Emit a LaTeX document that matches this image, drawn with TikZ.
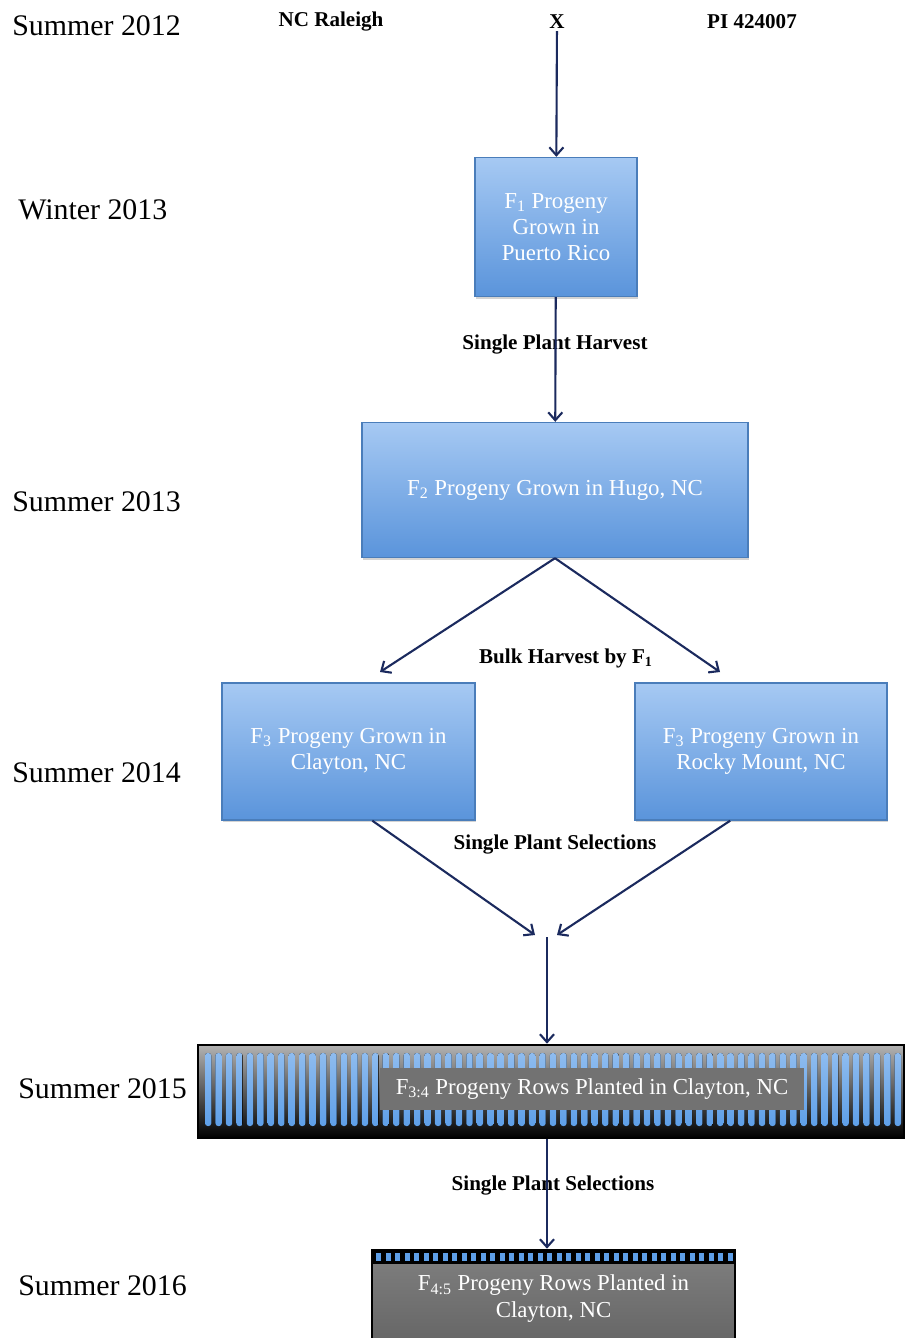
\documentclass[tikz,border=0pt]{standalone}
\usepackage{fontspec}
\setmainfont{Liberation Serif}
\usetikzlibrary{arrows.meta,shadows}
\definecolor{boxTop}{HTML}{A6C9F3}
\definecolor{boxBottom}{HTML}{5A94DB}
\definecolor{boxEdge}{HTML}{4A7DBA}
\definecolor{arrowNavy}{HTML}{1B2A5E}
\definecolor{stripeBlue}{HTML}{5E9FE8}
\definecolor{rowGray}{HTML}{727272}

\begin{document}
\begin{tikzpicture}
[x=0.02cm,y=-0.02cm,
  yearDecorate/.style={anchor=west,inner sep=0pt,font=\fontsize{17}{20}\selectfont},
  headDecorate/.style={inner sep=1pt,font=\bfseries\fontsize{12}{14}\selectfont},
  boxDecorate/.style={draw=boxEdge,thick,top color=boxTop,bottom color=boxBottom,
    text=white,align=center,font=\fontsize{13}{15}\selectfont,
    drop shadow={opacity=0.35,shadow xshift=0.6pt,shadow yshift=-1.2pt}},
  rowDecorate/.style={draw=black,line width=1.5pt,text=white,align=center,
    font=\fontsize{13}{15}\selectfont},
  lineDecorate/.style={draw=arrowNavy,line width=1.2pt,
    -{Straight Barb[length=4.5pt,width=8pt]}}]
\useasboundingbox (0,0) rectangle (904,1338);
%% seasons on the left
\foreach \name/\x/\y/\season in {
  y12/12/26/Summer 2012, w13/18/210/Winter 2013, y13/12/502/Summer 2013,
  y14/12/773/Summer 2014, y15/18/1089/Summer 2015, y16/18/1286/Summer 2016}
{
  \node[yearDecorate] (\name) at (\x,\y) {\season};
}
%% the cross
\node[headDecorate] (raleigh) at (331,22) {NC Raleigh};
\node[headDecorate] (cross) at (557,22) {X};
\node[headDecorate] (pi) at (752,22) {PI 424007};
%% generations
\node[boxDecorate,minimum width=3.24cm,minimum height=2.78cm] (b1) at (556,227)
  {F\textsubscript{1} Progeny\\Grown in\\Puerto Rico};
\node[boxDecorate,minimum width=7.72cm,minimum height=2.7cm] (b2) at (555,490)
  {F\textsubscript{2} Progeny Grown in Hugo, NC};
\node[boxDecorate,minimum width=5.06cm,minimum height=2.74cm] (b3a) at (348.5,751.5)
  {F\textsubscript{3} Progeny Grown in\\Clayton, NC};
\node[boxDecorate,minimum width=5.04cm,minimum height=2.74cm] (b3b) at (761,751.5)
  {F\textsubscript{3} Progeny Grown in\\Rocky Mount, NC};
%% progeny rows
\node[rowDecorate,top color=gray!60,bottom color=black,
  minimum width=14.12cm,minimum height=1.86cm] (b4) at (551,1091.5) {};
\foreach \k in {0,...,66}
  \fill[top color=stripeBlue!70!white,bottom color=stripeBlue,rounded corners=1.5pt]
    ({205+10.45*\k},1053) rectangle +(6.3,73);
\node[fill=rowGray,text=white,minimum width=8.5cm,minimum height=0.84cm,
  font=\fontsize{13}{15}\selectfont] (b4l) at (592,1089)
  {F\textsubscript{3:4} Progeny Rows Planted in Clayton, NC};
\node[rowDecorate,top color=black!50,bottom color=black!60,
  minimum width=7.26cm,minimum height=1.84cm,text depth=0pt] (b5) at (553.5,1296)
  {F\textsubscript{4:5} Progeny Rows Planted in\\Clayton, NC};
\fill[black] (373,1251) rectangle (734,1264);
\foreach \k in {0,...,37}
  \fill[stripeBlue] ({376+9.5*\k},1253) rectangle +(5,8);
%% step labels
\node[headDecorate] (h1) at (555,345) {Single Plant Harvest};
\node[headDecorate] (h2) at (566,658) {Bulk Harvest by F\textsubscript{1}};
\node[headDecorate] (h3) at (555,845) {Single Plant Selections};
\node[headDecorate] (h4) at (553,1185) {Single Plant Selections};
%% edges
\coordinate (l1) at (380,672);
\coordinate (r1) at (720,672);
\coordinate (l2) at (535,935);
\coordinate (r2) at (557,935);
\coordinate (mid) at (547,937);
\path
\foreach \startnode/\endnode in {cross/b1, b1/b2, b2.south/l1, b2.south/r1,
  b3a.-71/l2, b3b.-114/r2, mid/mid |- b4.north, mid |- b4.south/mid |- b5.north}
{
  (\startnode) edge[lineDecorate] (\endnode)
};
\end{tikzpicture}
\end{document}
